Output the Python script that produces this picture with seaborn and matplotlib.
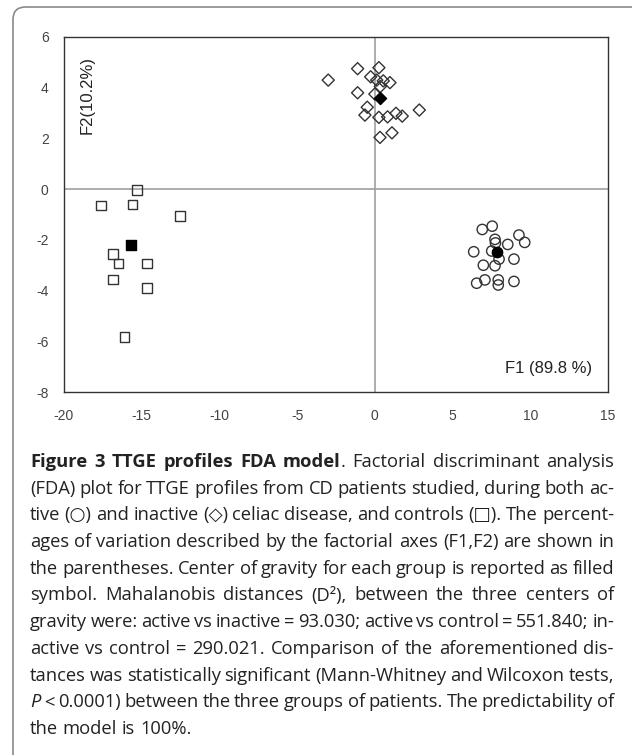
"""FDA plot of TTGE profiles (active / inactive celiac disease, controls)."""

import matplotlib
matplotlib.use("Agg")
import matplotlib.pyplot as plt
from matplotlib.patches import FancyBboxPatch
import pandas as pd
import seaborn as sns

# --- data ---------------------------------------------------------------
active_f1 = [6.91, 7.55, 7.73, 7.76, 9.27, 9.64, 8.55, 6.36, 7.52, 7.99,
             8.95, 6.98, 7.73, 6.55, 7.08, 7.94, 7.94, 8.95]
active_f2 = [-1.59, -1.46, -1.98, -2.12, -1.81, -2.10, -2.18, -2.47, -2.44, -2.76,
             -2.76, -3.00, -3.02, -3.71, -3.58, -3.58, -3.78, -3.64]

inactive_f1 = [-3.00, -1.11, 0.26, -0.27, 0.12, 0.54, 0.97, -1.11, 0.00, 0.35,
               -0.49, -0.64, 0.26, 0.82, 1.36, 1.76, 2.86, 0.33, 1.10]
inactive_f2 = [4.30, 4.75, 4.79, 4.43, 4.30, 4.27, 4.20, 3.80, 3.75, 4.05,
               3.23, 2.92, 2.83, 2.85, 2.99, 2.88, 3.12, 2.04, 2.22]

control_f1 = [-15.29, -17.63, -15.59, -12.52, -16.83, -16.49, -14.65, -16.83, -14.65, -16.10]
control_f2 = [-0.04, -0.65, -0.60, -1.05, -2.56, -2.93, -2.93, -3.56, -3.91, -5.82]

groups = ["active", "inactive", "control"]
center_f1 = [7.88, 0.33, -15.68]
center_f2 = [-2.47, 3.60, -2.19]

x_ticks = [-20, -15, -10, -5, 0, 5, 10, 15]
y_ticks = [-8, -6, -4, -2, 0, 2, 4, 6]

caption_lines = [
    [("Figure 3 TTGE profiles FDA model", "bold"), (". Factorial discriminant analysis", "normal")],
    [("(FDA) plot for TTGE profiles from CD patients studied, during both ac-", "normal")],
    [("tive (○) and inactive (◇) celiac disease, and controls (□). The percent-", "normal")],
    [("ages of variation described by the factorial axes (F1,F2) are shown in", "normal")],
    [("the parentheses. Center of gravity for each group is reported as filled", "normal")],
    [("symbol. Mahalanobis distances (D²), between the three centers of", "normal")],
    [("gravity were: active vs inactive = 93.030; active vs control = 551.840; in-", "normal")],
    [("active vs control = 290.021. Comparison of the aforementioned dis-", "normal")],
    [("tances was statistically significant (Mann-Whitney and Wilcoxon tests,", "normal")],
    [("P", "italic"), (" < 0.0001) between the three groups of patients. The predictability of", "normal")],
    [("the model is 100%.", "normal")],
]

markers = {"active": "o", "inactive": "D", "control": "s"}
sizes = {"active": 55, "inactive": 38, "control": 48}

W, H = 632, 755
CAP_FONT = ["Open Sans", "DejaVu Sans"]
INK = "#333333"


def build_frames():
    pts = pd.concat([
        pd.DataFrame({"F1": active_f1, "F2": active_f2, "group": "active"}),
        pd.DataFrame({"F1": inactive_f1, "F2": inactive_f2, "group": "inactive"}),
        pd.DataFrame({"F1": control_f1, "F2": control_f2, "group": "control"}),
    ], ignore_index=True)
    ctr = pd.DataFrame({"F1": center_f1, "F2": center_f2, "group": groups})
    return pts, ctr


def draw_caption_line(fig, renderer, segs, x0, y, width, justify, fontsize):
    tokens = []  # (text, style, glued-to-previous)
    for text, style in segs:
        for i, part in enumerate(text.split(" ")):
            if part == "":
                continue
            tokens.append((part, style, i == 0 and bool(tokens)))

    arts = []
    for text, style, glue in tokens:
        kw = dict(fontsize=fontsize, family=CAP_FONT, color="#222222", va="baseline", ha="left")
        if style == "bold":
            kw["fontweight"] = "bold"
        if style == "italic":
            kw["fontstyle"] = "italic"
        t = fig.text(0, 1 - y / H, text, **kw)
        arts.append((t, t.get_window_extent(renderer).width, glue))

    # group glued tokens into words
    words = []
    for t, w, glue in arts:
        if glue and words:
            words[-1].append((t, w))
        else:
            words.append([(t, w)])

    sp = fig.text(0, 0, "a a", fontsize=fontsize, family=CAP_FONT)
    nsp = fig.text(0, 0, "aa", fontsize=fontsize, family=CAP_FONT)
    space = sp.get_window_extent(renderer).width - nsp.get_window_extent(renderer).width
    sp.remove()
    nsp.remove()

    total = sum(w for word in words for _, w in word)
    gap = space
    if justify and len(words) > 1:
        gap = min(space * 1.8, max(space * 0.7, (width - total) / (len(words) - 1)))

    x = x0
    for word in words:
        for t, w in word:
            t.set_x(x / W)
            x += w
        x += gap


def main():
    sns.set_theme(style="white")
    plt.rcParams["font.family"] = ["Liberation Sans", "DejaVu Sans"]
    plt.rcParams["axes.unicode_minus"] = False

    pts, ctr = build_frames()

    fig = plt.figure(figsize=(W / 100, H / 100), dpi=100)
    ax = fig.add_axes([64 / W, 1 - 392 / H, (608 - 64) / W, (392 - 37) / H])

    ax.axhline(0, color="#a0a0a0", lw=1.2, zorder=1)
    ax.axvline(0, color="#a0a0a0", lw=1.2, zorder=1)

    for g in groups:
        sub = pts[pts["group"] == g]
        sns.scatterplot(data=sub, x="F1", y="F2", marker=markers[g], s=sizes[g],
                        facecolor="none", edgecolor=INK, linewidth=1.0,
                        ax=ax, zorder=3, legend=False)
        c = ctr[ctr["group"] == g]
        sns.scatterplot(data=c, x="F1", y="F2", marker=markers[g], s=sizes[g],
                        color="black", edgecolor="black", linewidth=1.0,
                        ax=ax, zorder=4, legend=False)

    ax.set_xlim(-20, 15)
    ax.set_ylim(-8, 6)
    ax.set_xticks(x_ticks)
    ax.set_yticks(y_ticks)
    ax.set_xlabel("")
    ax.set_ylabel("")
    ax.tick_params(axis="both", length=0, labelsize=10, labelcolor="#444444")
    ax.tick_params(axis="x", pad=12)
    ax.tick_params(axis="y", pad=11)
    for s in ax.spines.values():
        s.set_visible(True)
        s.set_color(INK)
        s.set_linewidth(1.0)

    ax.text(0.042, 0.837, "F2(10.2%)", transform=ax.transAxes, rotation=90,
            ha="center", va="center", fontsize=12, color="#222222")
    ax.text(0.97, 0.065, "F1 (89.8 %)", transform=ax.transAxes,
            ha="right", va="center", fontsize=12, color="#222222")

    # rounded frame around the whole figure (runs off the right/bottom edge)
    frame = FancyBboxPatch((13 / W, 1 - 770 / H), 650 / W, 763 / H,
                           boxstyle="round,pad=0,rounding_size=0.02",
                           transform=fig.transFigure, fill=False,
                           edgecolor="#8a8a8a", lw=1.2, mutation_aspect=W / H)
    fig.patches.append(frame)

    renderer = fig.canvas.get_renderer()
    for i, segs in enumerate(caption_lines):
        justify = i < len(caption_lines) - 1
        draw_caption_line(fig, renderer, segs, 30, 467 + i * 26.7, 584, justify, 13.2)

    fig.savefig("out.png", dpi=100)
    plt.close(fig)


if __name__ == "__main__":
    main()
